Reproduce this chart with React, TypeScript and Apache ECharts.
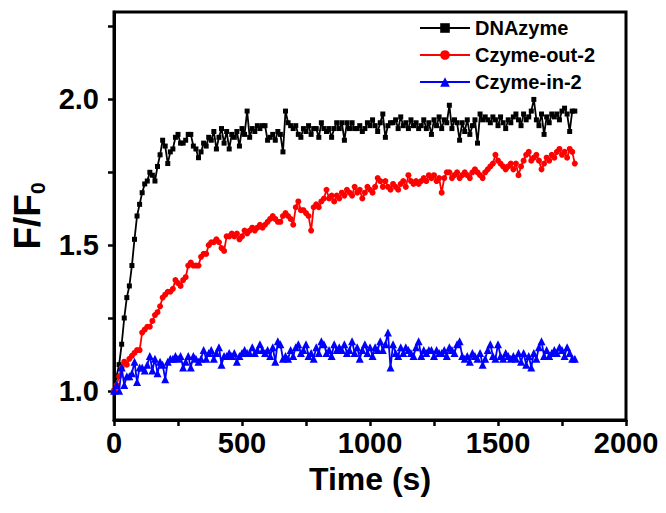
import React, { useEffect, useRef } from "react";
import * as echarts from "echarts";

// sampling interval of the recording (s); readings run from 0 s to 1800 s
const sampleInterval = 10;

const dnazyme = [
  1.00, 1.05, 1.09, 1.16, 1.25, 1.32, 1.36, 1.43, 1.52, 1.60,
  1.64, 1.68, 1.71, 1.72, 1.75, 1.74, 1.72, 1.77, 1.81, 1.86,
  1.84, 1.78, 1.82, 1.83, 1.87, 1.88, 1.85, 1.85, 1.86, 1.88,
  1.88, 1.84, 1.83, 1.80, 1.82, 1.85, 1.84, 1.87, 1.86, 1.89,
  1.83, 1.87, 1.90, 1.85, 1.89, 1.83, 1.88, 1.87, 1.89, 1.84,
  1.90, 1.88, 1.96, 1.87, 1.90, 1.89, 1.91, 1.90, 1.91, 1.91,
  1.86, 1.87, 1.88, 1.86, 1.89, 1.88, 1.82, 1.96, 1.92, 1.91,
  1.90, 1.91, 1.88, 1.87, 1.90, 1.89, 1.91, 1.88, 1.90, 1.90,
  1.87, 1.92, 1.90, 1.89, 1.90, 1.87, 1.90, 1.92, 1.90, 1.92,
  1.86, 1.92, 1.90, 1.92, 1.90, 1.90, 1.91, 1.89, 1.90, 1.92,
  1.91, 1.93, 1.91, 1.89, 1.92, 1.95, 1.87, 1.91, 1.92, 1.92,
  1.93, 1.90, 1.94, 1.91, 1.92, 1.90, 1.93, 1.91, 1.92, 1.90,
  1.91, 1.93, 1.90, 1.92, 1.88, 1.93, 1.91, 1.94, 1.90, 1.93,
  1.92, 1.98, 1.90, 1.93, 1.92, 1.86, 1.92, 1.89, 1.93, 1.88,
  1.91, 1.93, 1.85, 1.95, 1.93, 1.94, 1.93, 1.92, 1.94, 1.93,
  1.91, 1.94, 1.92, 1.90, 1.93, 1.92, 1.94, 1.95, 1.93, 1.91,
  1.95, 1.93, 1.94, 1.96, 2.00, 1.93, 1.91, 1.95, 1.88, 1.94,
  1.92, 1.95, 1.94, 1.95, 1.93, 1.96, 1.97, 1.95, 1.89, 1.96,
  1.96,
];

const czymeOut2 = [
  1.00, 1.02, 1.05, 1.08, 1.10, 1.09, 1.11, 1.12, 1.13, 1.14,
  1.14, 1.20, 1.21, 1.22, 1.22, 1.24, 1.26, 1.27, 1.29, 1.32,
  1.33, 1.34, 1.34, 1.35, 1.38, 1.37, 1.36, 1.38, 1.39, 1.43,
  1.44, 1.43, 1.43, 1.43, 1.46, 1.47, 1.47, 1.50, 1.51, 1.51,
  1.52, 1.51, 1.49, 1.48, 1.53, 1.53, 1.54, 1.53, 1.54, 1.52,
  1.53, 1.55, 1.54, 1.55, 1.56, 1.55, 1.56, 1.57, 1.56, 1.57,
  1.58, 1.59, 1.60, 1.59, 1.58, 1.58, 1.60, 1.61, 1.60, 1.59,
  1.57, 1.63, 1.65, 1.62, 1.62, 1.61, 1.60, 1.55, 1.63, 1.64,
  1.63, 1.65, 1.66, 1.69, 1.66, 1.67, 1.65, 1.67, 1.66, 1.68,
  1.67, 1.69, 1.68, 1.67, 1.70, 1.68, 1.69, 1.66, 1.68, 1.70,
  1.69, 1.68, 1.70, 1.73, 1.72, 1.70, 1.72, 1.70, 1.69, 1.71,
  1.70, 1.69, 1.71, 1.72, 1.70, 1.74, 1.72, 1.71, 1.72, 1.71,
  1.72, 1.73, 1.72, 1.74, 1.73, 1.74, 1.72, 1.73, 1.68, 1.73,
  1.75, 1.75, 1.73, 1.74, 1.75, 1.73, 1.74, 1.75, 1.74, 1.73,
  1.75, 1.76, 1.75, 1.74, 1.73, 1.75, 1.76, 1.77, 1.78, 1.81,
  1.79, 1.78, 1.77, 1.76, 1.77, 1.78, 1.76, 1.78, 1.74, 1.77,
  1.79, 1.81, 1.82, 1.79, 1.80, 1.81, 1.79, 1.76, 1.78, 1.80,
  1.79, 1.81, 1.80, 1.82, 1.83, 1.81, 1.82, 1.80, 1.83, 1.82,
  1.78,
];

const czymeIn2 = [
  1.00, 1.02, 1.00, 1.08, 1.02, 1.05, 1.05, 1.06, 1.10, 1.03,
  1.08, 1.08, 1.07, 1.09, 1.12, 1.07, 1.11, 1.06, 1.10, 1.09,
  1.04, 1.10, 1.11, 1.11, 1.12, 1.11, 1.12, 1.08, 1.10, 1.12,
  1.08, 1.12, 1.11, 1.10, 1.11, 1.14, 1.11, 1.13, 1.14, 1.11,
  1.13, 1.15, 1.09, 1.12, 1.12, 1.13, 1.12, 1.13, 1.10, 1.12,
  1.13, 1.14, 1.13, 1.13, 1.15, 1.13, 1.14, 1.16, 1.14, 1.13,
  1.14, 1.12, 1.15, 1.10, 1.17, 1.16, 1.11, 1.12, 1.11, 1.14,
  1.12, 1.15, 1.16, 1.13, 1.14, 1.16, 1.12, 1.13, 1.11, 1.15,
  1.13, 1.17, 1.16, 1.13, 1.14, 1.12, 1.16, 1.14, 1.15, 1.14,
  1.16, 1.13, 1.14, 1.17, 1.13, 1.15, 1.11, 1.14, 1.16, 1.13,
  1.15, 1.12, 1.15, 1.14, 1.17, 1.14, 1.16, 1.20, 1.08, 1.16,
  1.13, 1.12, 1.15, 1.13, 1.15, 1.14, 1.13, 1.12, 1.15, 1.17,
  1.12, 1.14, 1.13, 1.14, 1.14, 1.12, 1.14, 1.13, 1.13, 1.14,
  1.12, 1.15, 1.14, 1.13, 1.16, 1.17, 1.12, 1.11, 1.12, 1.10,
  1.13, 1.12, 1.11, 1.13, 1.09, 1.11, 1.14, 1.16, 1.12, 1.11,
  1.16, 1.12, 1.11, 1.13, 1.12, 1.11, 1.12, 1.11, 1.13, 1.10,
  1.13, 1.09, 1.12, 1.08, 1.13, 1.11, 1.15, 1.17, 1.12, 1.14,
  1.12, 1.13, 1.14, 1.13, 1.15, 1.14, 1.12, 1.15, 1.13, 1.11,
  1.11,
];

const seriesNames = ["DNAzyme", "Czyme-out-2", "Czyme-in-2"];
const seriesColors = ["#000000", "#ff0000", "#0000ff"];
const seriesSymbols = ["rect", "circle", "triangle"];
const seriesSymbolSizes = [5, 6, 8];
const seriesValues = [dnazyme, czymeOut2, czymeIn2];

const xTickLabels = [0, 500, 1000, 1500, 2000];
const yTickLabels = [1.0, 1.5, 2.0];
const yTicks = [1.0, 1.25, 1.5, 1.75, 2.0, 2.25];

const FONT = "'Liberation Sans', Arial, Helvetica, sans-serif";

export default function App() {
  const ref = useRef<HTMLDivElement>(null);

  useEffect(() => {
    if (!ref.current) return;
    const chart = echarts.init(ref.current, undefined, { renderer: "svg" });

    const series = seriesValues.map((vals, i) => ({
      name: seriesNames[i],
      type: "line",
      data: vals.map((v, k) => [k * sampleInterval, v]),
      symbol: seriesSymbols[i],
      symbolSize: seriesSymbolSizes[i],
      showSymbol: true,
      showAllSymbol: true,
      color: seriesColors[i],
      lineStyle: { color: seriesColors[i], width: 1.8 },
      itemStyle: { color: seriesColors[i] },
      z: 2 + i,
    }));

    chart.setOption({
      animation: false,
      backgroundColor: "#ffffff",
      grid: {
        left: 114,
        right: 40,
        top: 12,
        bottom: 93,
        show: true,
        borderColor: "#000",
        borderWidth: 3,
        containLabel: false,
      },
      legend: {
        orient: "vertical",
        left: 414,
        top: 13,
        itemWidth: 50,
        itemHeight: 12,
        itemGap: 7,
        data: seriesNames,
        textStyle: {
          fontFamily: FONT,
          fontWeight: "bold",
          fontSize: 20,
          color: "#000",
          lineHeight: 20,
        },
      },
      xAxis: {
        type: "value",
        min: 0,
        max: 2000,
        interval: 250,
        name: "Time (s)",
        nameLocation: "middle",
        nameGap: 43,
        nameTextStyle: {
          fontFamily: FONT,
          fontWeight: "bold",
          fontSize: 32,
          color: "#000",
        },
        axisLine: { show: true, onZero: false, lineStyle: { color: "#000", width: 3 } },
        axisTick: { show: true, inside: false, length: 6, lineStyle: { color: "#000", width: 2.5 } },
        axisLabel: {
          fontFamily: FONT,
          fontWeight: "bold",
          fontSize: 29,
          color: "#000",
          margin: 8,
          formatter: (v: number) => (xTickLabels.includes(v) ? String(v) : ""),
        },
        splitLine: { show: false },
      },
      yAxis: {
        type: "value",
        min: 0.9,
        max: 2.3,
        name: "{a|F/F}{s|0}",
        nameLocation: "middle",
        nameGap: 60,
        nameRotate: 90,
        nameTextStyle: {
          fontFamily: FONT,
          fontWeight: "bold",
          fontSize: 37,
          color: "#000",
          rich: {
            a: { fontFamily: FONT, fontWeight: "bold", fontSize: 37, color: "#000", lineHeight: 40 },
            s: {
              fontFamily: FONT,
              fontWeight: "bold",
              fontSize: 21,
              color: "#000",
              verticalAlign: "bottom",
              lineHeight: 40,
            },
          },
        },
        axisLine: { show: true, onZero: false, lineStyle: { color: "#000", width: 3 } },
        axisTick: {
          show: true,
          inside: false,
          length: 6,
          customValues: yTicks,
          lineStyle: { color: "#000", width: 2.5 },
        },
        axisLabel: {
          fontFamily: FONT,
          fontWeight: "bold",
          fontSize: 29,
          color: "#000",
          margin: 15,
          customValues: yTickLabels,
          formatter: (v: number) => v.toFixed(1),
        },
        splitLine: { show: false },
      },
      series,
    });

    return () => chart.dispose();
  }, []);

  return (
    <div
      ref={ref}
      style={{ position: "fixed", left: 0, top: 0, width: 666, height: 513, background: "#fff" }}
    />
  );
}
